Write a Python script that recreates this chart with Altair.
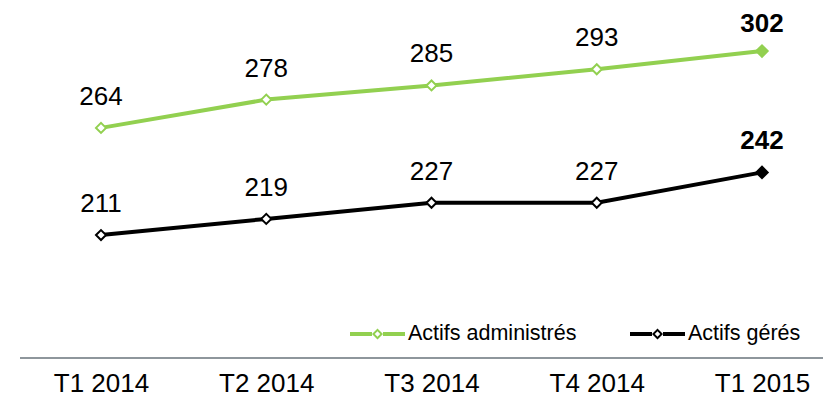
import altair as alt
import pandas as pd

quarters = ["T1 2014", "T2 2014", "T3 2014", "T4 2014", "T1 2015"]
administres = [264, 278, 285, 293, 302]
geres = [211, 219, 227, 227, 242]
series = ["Actifs administrés", "Actifs gérés"]
colors = ["#92D050", "#000000"]

rows = []
for s, vals in zip(series, [administres, geres]):
    for i, (q, v) in enumerate(zip(quarters, vals)):
        rows.append({"quarter": q, "value": v, "series": s, "last": i == len(quarters) - 1,
                     "top": i == len(quarters) - 1 and s == series[0]})
df = pd.DataFrame(rows)

W, H = 803, 350
FONT = "Liberation Sans"

x = alt.X("quarter:O", sort=quarters,
          scale=alt.Scale(type="point", range=[81, 742], padding=0),
          axis=alt.Axis(title=None, domain=False, ticks=False, grid=False, labelAngle=0,
                        labelFontSize=26, labelFont=FONT, labelColor="#000000",
                        labelPadding=12))
y = alt.Y("value:Q", scale=alt.Scale(domain=[150.2, 323.3], nice=False, zero=False), axis=None)

# legend symbol: line segments + hollow diamond ring (hole by opposite winding)
sym = ("M-1,-0.073H-0.2V0.073H-1Z "
       "M0.2,-0.073H1V0.073H0.2Z "
       "M-0.2,0L0,-0.2L0.2,0L0,0.2Z "
       "M-0.098,0L0,0.098L0.098,0L0,-0.098Z")

color = alt.Color("series:N", scale=alt.Scale(domain=series, range=colors),
                  legend=alt.Legend(title=None, orient="none", legendX=330, legendY=298.5,
                                    direction="horizontal", symbolType=sym, symbolSize=3025,
                                    symbolStrokeWidth=0,
                                    labelFontSize=21.5, labelFont=FONT,
                                    labelColor="#000000", labelOffset=3, columnPadding=53,
                                    padding=0, labelLimit=400))
stroke = alt.Stroke("series:N", scale=alt.Scale(domain=series, range=colors), legend=None)
fill = alt.Fill("series:N", scale=alt.Scale(domain=series, range=colors), legend=None)

base = alt.Chart(df)

axis_line = base.mark_rule(color="#8E969C", strokeWidth=2).encode(
    x=alt.value(0), x2=alt.value(W), y=alt.value(H))

lines = base.mark_line(strokeWidth=4).encode(x=x, y=y, color=color, detail="series:N")

open_pts = base.transform_filter("!datum.last").mark_point(
    shape="diamond", size=100, strokeWidth=2, filled=False, fill="white", fillOpacity=1,
    opacity=1).encode(x=x, y=y, stroke=stroke)

filled_pts = base.transform_filter("datum.last").mark_point(
    shape="diamond", size=130, strokeWidth=2, filled=True, opacity=1).encode(
    x=x, y=y, fill=fill, stroke=stroke)

labels = base.transform_filter("!datum.last").mark_text(
    fontSize=26, font=FONT, color="#000000", dy=-23, baseline="alphabetic", align="center"
).encode(x=x, y=y, text="value:Q")

labels_bold = base.transform_filter("datum.last && !datum.top").mark_text(
    fontSize=26, font=FONT, color="#000000", dy=-23, baseline="alphabetic", align="center",
    fontWeight="bold"
).encode(x=x, y=y, text="value:Q")

labels_bold_top = base.transform_filter("datum.top").mark_text(
    fontSize=26, font=FONT, color="#000000", dy=-19.5, baseline="alphabetic", align="center",
    fontWeight="bold"
).encode(x=x, y=y, text="value:Q")

chart = alt.layer(axis_line, lines, open_pts, filled_pts, labels, labels_bold,
                  labels_bold_top).properties(
    width=W, height=H,
    background="white",
    autosize=alt.AutoSizeParams(type="none"),
    padding={"left": 12, "top": 0, "right": 0, "bottom": 39},
).configure_view(stroke=None)

chart.save("out.html", embed_options={"renderer": "svg", "actions": False})
